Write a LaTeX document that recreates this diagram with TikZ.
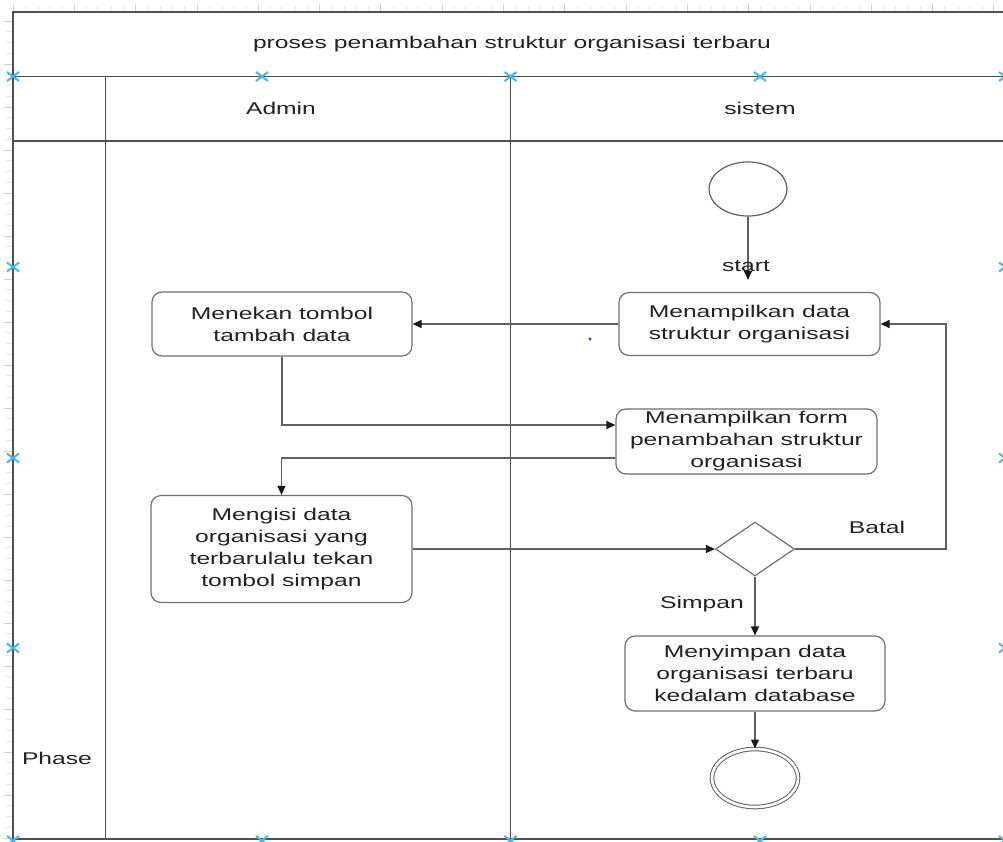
\documentclass[tikz,border=0pt]{standalone}
\usepackage{fontspec}
\setmainfont{Liberation Sans}[FakeStretch=1.45]
\usetikzlibrary{arrows.meta,shapes.geometric,calc}

\definecolor{frameline}{HTML}{505050}
\definecolor{boxline}{HTML}{707070}
\definecolor{flowline}{HTML}{606060}
\definecolor{handleblue}{HTML}{45B6F0}
\definecolor{txt}{HTML}{222222}

\tikzset{
  handle/.pic={\draw[handleblue, line width=2pt] (-6,-4.5) -- (6,4.5) (-6,4.5) -- (6,-4.5);},
}

\begin{document}
\begin{tikzpicture}[x=1pt, y=-1pt,
  every node/.style={font=\fontsize{17}{22}\selectfont, text=txt},
  lane/.style={draw=frameline, line width=1.4pt},
  act/.style={draw=boxline, line width=1.2pt, rounded corners=10pt, align=center, inner sep=0pt},
  flow/.style={draw=flowline, line width=1.2pt, -{Triangle[length=9pt,width=8pt,color=black!90]}},
  lbl/.style={inner sep=1pt},
  tickmajor/.style={draw=black!18, line width=0.8pt},
  tickminor/.style={draw=black!9, line width=0.8pt},
]
\useasboundingbox (0,0) rectangle (1003,841);
\clip (0,0) rectangle (1003,841);
\fill[white] (0,0) rectangle (1003,841);

% rulers
\foreach \k in {0,...,80} {
  \pgfmathsetmacro{\xx}{13+12.26*\k}
  \pgfmathtruncatemacro{\m}{mod(\k,5)}
  \ifnum\m=0 \draw[tickmajor] (\xx,4) -- (\xx,11); \else \draw[tickminor] (\xx,6) -- (\xx,10); \fi
}
\foreach \k in {0,...,78} {
  \pgfmathsetmacro{\yy}{21+10.75*\k}
  \pgfmathtruncatemacro{\m}{mod(\k,4)}
  \ifnum\m=0 \draw[tickmajor] (4,\yy) -- (12,\yy); \else \draw[tickminor] (6,\yy) -- (12,\yy); \fi
}

% pool and lanes
\draw[lane] (13,12) rectangle (1006,839);
\draw[lane] (13,76.5) -- (1006,76.5);
\draw[lane] (13,141) -- (1006,141);
\draw[lane] (105.5,76.5) -- (105.5,839);
\draw[lane] (510.5,76.5) -- (510.5,839);

\node (title) at (512,44) {proses penambahan struktur organisasi terbaru};
\node (admin) at (281,108) {Admin};
\node (sistem) at (760,108) {sistem};
\node (phase) at (57,758) {Phase};

% activities
\node[draw=flowline, line width=1.2pt, ellipse, minimum width=78pt, minimum height=54pt, inner sep=0pt] (start) at (748,189) {};
\node[act, minimum width=261pt, minimum height=63pt] (A) at (749.5,324) {Menampilkan data\\struktur organisasi};
\node[act, minimum width=260pt, minimum height=64pt] (B) at (282,324) {Menekan tombol\\tambah data};
\node[act, minimum width=261pt, minimum height=65pt] (C) at (746.5,441.5) {Menampilkan form\\penambahan struktur\\organisasi};
\node[act, minimum width=261pt, minimum height=107pt] (D) at (281.5,549) {Mengisi data\\organisasi yang\\terbarulalu tekan\\tombol simpan};
\node[draw=boxline, line width=1.2pt, diamond, minimum width=79pt, minimum height=54pt, inner sep=0pt] (dia) at (755,549) {};
\node[act, minimum width=260pt, minimum height=75pt] (E) at (755,673.5) {Menyimpan data\\organisasi terbaru\\kedalam database};
\node[draw=flowline, line width=1pt, double=white, double distance=2.6pt, ellipse, minimum width=86pt, minimum height=58pt, inner sep=0pt] (end) at (755,778) {};

% connectors
\draw[flow, shorten >=12pt] (start.south) -- (start.south |- A.north);
\node[lbl] (lblstart) at (746,266) {start};
\draw[flow] (A.west) -- (B.east);
\draw[flow] (B.south) |- ($(C.west)+(0,-16.5)$);
\draw[flow] ($(C.west)+(0,16.5)$) -| (D.north);
\draw[flow] (D.east) -- (dia.west);
\coordinate (bend) at (946,549);
\draw[flow] (dia.east) -- (bend) |- (A.east);
\node[lbl] (lblbatal) at (877,527) {Batal};
\draw[flow] (dia.south) -- (E.north);
\node[lbl] (lblsimpan) at (702,604) {Simpan};
\draw[flow] (E.south) -- (end.north);

% selection handles
\foreach \p in {(13,76.5),(262,76.5),(510.5,76.5),(760,76.5),(1005,76.5),
                (13,267),(13,458),(13,648),(1005,267),(1005,458),(1005,648),
                (13,840.5),(262,840.5),(510.5,840.5),(760,840.5),(1005,840.5)}
  \pic at \p {handle};
\fill[blue!80] (590,339) circle (1.6);
\end{tikzpicture}
\end{document}
